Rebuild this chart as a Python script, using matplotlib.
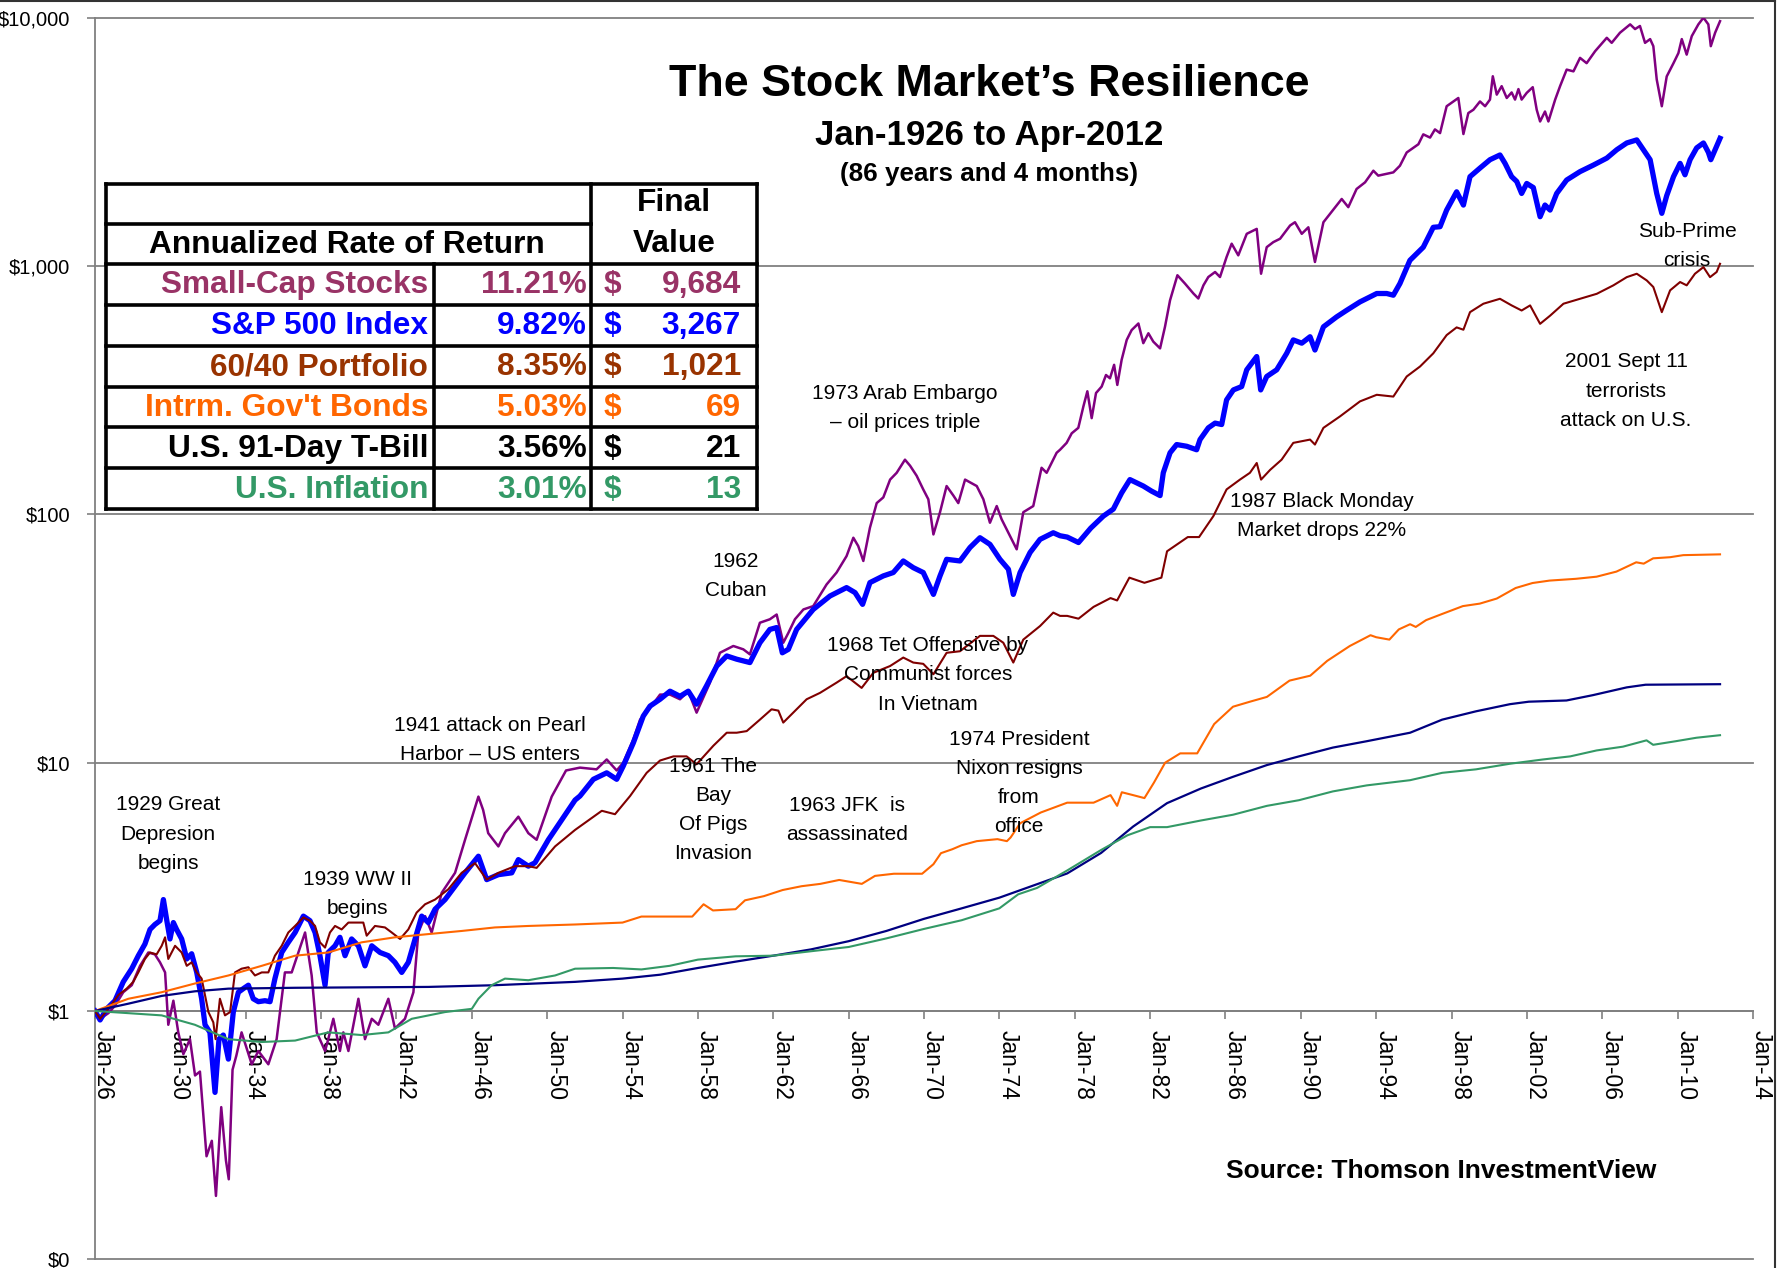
import matplotlib
matplotlib.use("Agg")
import matplotlib.pyplot as plt
from matplotlib.lines import Line2D
from matplotlib.patches import Rectangle
from matplotlib.ticker import NullLocator, FixedLocator
import matplotlib.transforms as mtransforms

plt.rcParams['font.family'] = ['Liberation Sans', 'DejaVu Sans']

# ---------------- data (growth of $1) ----------------
small_x = [1926.0, 1926.27, 1926.71, 1927.06, 1927.5, 1927.95, 1928.39, 1928.83, 1929.18, 1929.45,
           1929.72, 1929.89, 1930.16, 1930.42, 1930.69, 1931.04, 1931.31, 1931.57, 1931.75, 1931.92,
           1932.2, 1932.42, 1932.7, 1932.95, 1933.1, 1933.3, 1933.5, 1933.78, 1934.32, 1934.67,
           1935.2, 1935.64, 1936.08, 1936.44, 1937.15, 1937.5, 1937.77, 1938.21, 1938.38, 1938.65,
           1939.0, 1939.18, 1939.45, 1939.98, 1940.33, 1940.69, 1941.04, 1941.57, 1941.92, 1942.45,
           1942.9, 1943.16, 1943.52, 1943.87, 1944.4, 1945.11, 1945.64, 1946.35, 1946.6, 1946.87,
           1947.41, 1947.76, 1948.47, 1949.0, 1949.44, 1950.24, 1951.0, 1951.74, 1952.62, 1953.16,
           1953.69, 1954.04, 1954.57, 1954.93, 1955.46, 1955.99, 1956.52, 1957.05, 1957.49, 1957.93,
           1958.64, 1959.17, 1959.88, 1960.41, 1960.76, 1961.29, 1961.82, 1962.18, 1962.53, 1962.8,
           1963.15, 1963.6, 1964.12, 1964.83, 1965.36, 1965.89, 1966.25, 1966.51, 1966.78, 1967.13,
           1967.49, 1967.84, 1968.2, 1968.55, 1968.99, 1969.26, 1969.61, 1969.96, 1970.23, 1970.5,
           1970.85, 1971.2, 1971.56, 1971.82, 1972.18, 1972.8, 1973.15, 1973.5, 1973.86, 1974.12,
           1974.56, 1974.92, 1975.27, 1975.8, 1976.24, 1976.51, 1977.04, 1977.22, 1977.57, 1977.84,
           1978.19, 1978.46, 1978.67, 1978.9, 1979.13, 1979.43, 1979.66, 1979.87, 1980.09, 1980.26,
           1980.49, 1980.76, 1981.02, 1981.38, 1981.64, 1981.91, 1982.17, 1982.53, 1982.79, 1983.06,
           1983.45, 1983.85, 1984.3, 1984.56, 1984.83, 1985.09, 1985.45, 1985.71, 1986.06, 1986.33,
           1986.68, 1987.13, 1987.66, 1987.89, 1988.19, 1988.54, 1988.9, 1989.43, 1989.69, 1990.05,
           1990.4, 1990.75, 1991.2, 1991.55, 1992.17, 1992.52, 1992.96, 1993.41, 1993.85, 1994.11,
           1994.91, 1995.26, 1995.62, 1996.24, 1996.5, 1996.86, 1997.12, 1997.39, 1997.74, 1998.36,
           1998.63, 1998.89, 1999.16, 1999.51, 1999.78, 2000.04, 2000.19, 2000.4, 2000.66, 2000.93,
           2001.19, 2001.37, 2001.55, 2001.72, 2001.99, 2002.31, 2002.52, 2002.7, 2002.96, 2003.14,
           2003.5, 2003.76, 2004.11, 2004.47, 2004.82, 2005.17, 2005.62, 2006.24, 2006.5, 2006.94,
           2007.48, 2007.74, 2008.0, 2008.27, 2008.54, 2008.71, 2008.89, 2009.16, 2009.42, 2009.78,
           2010.04, 2010.22, 2010.48, 2010.75, 2011.1, 2011.37, 2011.63, 2011.76, 2011.99, 2012.25]
small_y = [1.0, 0.93, 0.98, 1.05, 1.19, 1.27, 1.52, 1.72, 1.69, 1.57,
           1.43, 0.88, 1.10, 0.82, 0.67, 0.77, 0.55, 0.57, 0.38, 0.26,
           0.30, 0.18, 0.41, 0.25, 0.21, 0.58, 0.66, 0.82, 0.61, 0.69,
           0.61, 0.77, 1.43, 1.43, 2.07, 1.39, 0.82, 0.69, 0.77, 0.93,
           0.69, 0.82, 0.69, 1.12, 0.77, 0.93, 0.88, 1.12, 0.85, 0.93,
           1.19, 2.07, 2.41, 2.07, 2.99, 3.6, 4.89, 7.3, 6.45, 5.2,
           4.6, 5.2, 6.06, 5.2, 4.89, 7.3, 9.3, 9.55, 9.4, 10.3,
           9.3, 10.0, 12.4, 14.9, 16.6, 18.8, 18.8, 18.0, 19.4, 15.9,
           21.0, 27.7, 29.5, 28.6, 27.3, 36.6, 37.8, 39.5, 30.4, 33.3,
           37.8, 41.4, 42.7, 52.2, 58.3, 67.9, 80.5, 74.5, 64.9, 88.3,
           111, 117, 138, 147, 166, 157, 143, 126, 115, 83,
           102, 130, 119, 111, 138, 130, 115, 92.5, 108, 95.5,
           81.9, 72.3, 102, 108, 154, 147, 177, 182, 194, 212,
           223, 272, 313, 244, 308, 327, 364, 353, 400, 332,
           419, 504, 552, 587, 489, 536, 496, 466, 569, 728,
           918, 850, 775, 740, 836, 903, 946, 903, 1087, 1230,
           1104, 1348, 1411, 931, 1191, 1248, 1288, 1456, 1501, 1348,
           1432, 1038, 1501, 1622, 1862, 1726, 2043, 2173, 2420, 2312,
           2383, 2534, 2866, 3093, 3390, 3290, 3550, 3430, 4400, 4750,
           3400, 4130, 4260, 4600, 4400, 4680, 5810, 4900, 5300, 4750,
           5000, 4680, 5160, 4680, 4980, 5250, 4260, 3820, 4190, 3820,
           4680, 5300, 6180, 6080, 6890, 6560, 7330, 8300, 7920, 8700,
           9400, 9000, 9260, 7920, 8200, 7680, 5640, 4400, 5800, 6560,
           7200, 8200, 7100, 8430, 9400, 10000, 9400, 7680, 8700, 9684]

sp_x = [1926.0, 1926.27, 1926.62, 1927.06, 1927.5, 1927.95, 1928.3, 1928.65, 1928.92, 1929.18,
        1929.45, 1929.63, 1929.8, 1929.98, 1930.16, 1930.33, 1930.6, 1930.87, 1931.13, 1931.4,
        1931.66, 1931.84, 1932.1, 1932.37, 1932.58, 1932.81, 1933.08, 1933.34, 1933.61, 1933.87,
        1934.14, 1934.4, 1934.67, 1935.02, 1935.29, 1935.55, 1935.91, 1936.26, 1936.62, 1937.06,
        1937.41, 1937.68, 1937.94, 1938.21, 1938.38, 1938.74, 1939.0, 1939.27, 1939.62, 1939.98,
        1940.33, 1940.69, 1941.13, 1941.57, 1941.92, 1942.28, 1942.63, 1942.99, 1943.34, 1943.69,
        1944.05, 1944.58, 1945.11, 1945.64, 1946.35, 1946.79, 1947.41, 1948.12, 1948.47, 1949.0,
        1949.35, 1950.06, 1950.77, 1951.48, 1951.74, 1952.45, 1953.16, 1953.69, 1954.04, 1954.57,
        1955.1, 1955.46, 1955.99, 1956.52, 1957.05, 1957.49, 1957.93, 1958.46, 1959.0, 1959.53,
        1960.06, 1960.76, 1961.29, 1961.82, 1962.18, 1962.48, 1962.8, 1963.24, 1964.12, 1965.01,
        1965.89, 1966.34, 1966.74, 1967.13, 1967.84, 1968.37, 1968.9, 1969.43, 1969.96, 1970.5,
        1970.85, 1971.2, 1971.91, 1972.44, 1972.97, 1973.5, 1974.03, 1974.48, 1974.74, 1975.1,
        1975.63, 1976.16, 1976.86, 1977.22, 1977.6, 1978.2, 1978.85, 1979.52, 1980.05, 1980.49,
        1980.93, 1981.64, 1982.08, 1982.53, 1982.7, 1983.06, 1983.41, 1983.94, 1984.47, 1984.65,
        1985.09, 1985.45, 1985.8, 1986.06, 1986.42, 1986.86, 1987.13, 1987.66, 1987.87, 1988.19,
        1988.72, 1989.25, 1989.6, 1990.05, 1990.49, 1990.75, 1991.2, 1991.9, 1992.43, 1993.14,
        1994.03, 1994.56, 1994.91, 1995.26, 1995.79, 1996.5, 1997.03, 1997.39, 1997.74, 1998.27,
        1998.63, 1998.98, 1999.51, 2000.04, 2000.57, 2000.84, 2001.19, 2001.46, 2001.72, 2001.99,
        2002.34, 2002.7, 2002.96, 2003.23, 2003.58, 2004.11, 2004.82, 2005.53, 2006.24, 2006.77,
        2007.3, 2007.83, 2008.18, 2008.54, 2008.89, 2009.16, 2009.42, 2009.78, 2010.13, 2010.39,
        2010.66, 2011.01, 2011.37, 2011.63, 2011.76, 2012.07, 2012.25]
sp_y = [1.0, 0.92, 1.02, 1.10, 1.31, 1.48, 1.67, 1.86, 2.13, 2.23,
        2.31, 2.81, 2.34, 1.95, 2.27, 2.13, 1.95, 1.62, 1.70, 1.43,
        1.12, 0.88, 0.82, 0.47, 0.77, 0.80, 0.64, 0.99, 1.19, 1.23,
        1.27, 1.12, 1.09, 1.10, 1.09, 1.35, 1.72, 1.89, 2.07, 2.41,
        2.31, 2.07, 1.67, 1.27, 1.72, 1.83, 1.98, 1.67, 1.95, 1.83,
        1.52, 1.83, 1.72, 1.67, 1.57, 1.43, 1.57, 1.95, 2.41, 2.27,
        2.57, 2.81, 3.18, 3.6, 4.2, 3.38, 3.54, 3.6, 4.07, 3.83,
        3.95, 4.89, 5.88, 7.07, 7.34, 8.57, 9.1, 8.57, 9.7, 12.0,
        15.4, 16.9, 18.0, 19.4, 18.5, 19.4, 17.2, 20.4, 24.5, 26.9,
        26.1, 25.3, 30.4, 34.4, 35.0, 27.7, 28.6, 34.4, 41.4, 46.9,
        50.7, 48.4, 43.4, 53.1, 56.5, 58.3, 64.9, 61.0, 58.3, 47.6,
        56.5, 65.9, 64.9, 73.5, 80.5, 75.7, 65.9, 60.1, 47.6, 58.3,
        70.2, 79.3, 84.3, 82, 81, 77, 88, 98.4, 105, 122,
        138, 130, 124, 119, 147, 177, 191, 188, 182, 200,
        223, 233, 230, 289, 317, 327, 382, 432, 317, 359,
        382, 445, 504, 489, 519, 459, 569, 624, 663, 717,
        775, 775, 763, 850, 1054, 1191, 1432, 1440, 1680, 1990,
        1760, 2290, 2480, 2680, 2800, 2590, 2290, 2190, 1960, 2150,
        2070, 1580, 1760, 1680, 1960, 2220, 2400, 2550, 2720, 2940,
        3130, 3220, 2940, 2680, 1960, 1630, 1920, 2290, 2590, 2330,
        2680, 2990, 3130, 2870, 2680, 3040, 3267]

p6040_x = [1926.0, 1926.27, 1926.8, 1927.24, 1927.68, 1928.03, 1928.3, 1928.65, 1928.92, 1929.27,
           1929.54, 1929.72, 1929.89, 1930.25, 1930.6, 1930.87, 1931.13, 1931.4, 1931.66, 1932.02,
           1932.28, 1932.4, 1932.63, 1932.9, 1933.17, 1933.43, 1933.78, 1934.14, 1934.49, 1934.85,
           1935.2, 1935.55, 1935.91, 1936.26, 1936.62, 1937.06, 1937.41, 1937.68, 1937.94, 1938.21,
           1938.47, 1938.74, 1939.09, 1939.45, 1939.8, 1940.24, 1940.42, 1940.86, 1941.39, 1941.75,
           1942.19, 1942.63, 1943.07, 1943.52, 1944.05, 1944.75, 1945.46, 1946.17, 1946.79, 1947.41,
           1948.29, 1949.0, 1949.44, 1950.42, 1951.48, 1952.9, 1953.6, 1954.4, 1955.28, 1955.99,
           1956.7, 1957.4, 1957.93, 1958.82, 1959.53, 1960.06, 1960.59, 1961.29, 1961.91, 1962.27,
           1962.53, 1963.06, 1963.77, 1964.48, 1965.36, 1965.89, 1966.69, 1967.31, 1968.2, 1968.9,
           1969.43, 1969.96, 1970.5, 1971.2, 1971.91, 1972.97, 1973.68, 1974.21, 1974.74, 1975.27,
           1976.16, 1976.86, 1977.22, 1977.6, 1978.2, 1979.0, 1979.9, 1980.25, 1980.9, 1981.7,
           1982.6, 1982.9, 1984.0, 1984.6, 1985.36, 1986.06, 1986.77, 1987.3, 1987.66, 1987.89,
           1988.37, 1988.98, 1989.6, 1990.49, 1990.75, 1991.2, 1992.08, 1993.14, 1994.03, 1994.91,
           1995.62, 1996.33, 1997.03, 1997.74, 1998.27, 1998.63, 1998.98, 1999.69, 2000.57, 2001.19,
           2001.72, 2002.17, 2002.7, 2003.23, 2003.94, 2004.82, 2005.71, 2006.59, 2007.3, 2007.83,
           2008.36, 2008.71, 2009.16, 2009.6, 2010.13, 2010.48, 2010.92, 2011.37, 2011.72, 2012.07,
           2012.25]
p6040_y = [1.0, 0.93, 1.04, 1.16, 1.23, 1.31, 1.43, 1.62, 1.72, 1.69,
           1.83, 1.98, 1.62, 1.83, 1.72, 1.52, 1.57, 1.43, 1.35, 0.99,
           0.90, 0.77, 1.12, 0.96, 0.99, 1.43, 1.48, 1.50, 1.39, 1.43,
           1.43, 1.67, 1.83, 2.07, 2.20, 2.38, 2.31, 2.20, 1.89, 1.80,
           2.07, 2.20, 2.13, 2.27, 2.27, 2.27, 2.01, 2.20, 2.17, 2.07,
           1.95, 2.13, 2.49, 2.69, 2.81, 3.09, 3.60, 3.94, 3.38, 3.60,
           3.83, 3.83, 3.77, 4.60, 5.36, 6.4, 6.2, 7.34, 9.1, 10.2,
           10.6, 10.6, 9.85, 11.7, 13.2, 13.2, 13.4, 14.9, 16.4, 16.2,
           14.5, 15.9, 18.0, 19.1, 21.0, 22.3, 20.0, 23.0, 24.5, 26.5,
           25.3, 25.0, 22.7, 27.7, 28.1, 32.4, 32.4, 30.4, 25.3, 31.3,
           35.5, 40.2, 39, 39, 38, 42.4, 46, 45, 55.6, 53,
           55.6, 71, 81, 81, 98.4, 126, 138, 147, 161, 138,
           151, 166, 194, 200, 191, 223, 248, 285, 303, 298,
           359, 394, 445, 527, 566, 554, 652, 705, 738, 694,
           662, 694, 585, 631, 705, 738, 773, 836, 902, 931,
           875, 823, 652, 798, 862, 836, 931, 990, 902, 946,
           1021]

bond_x = [1926.0, 1927.77, 1929.54, 1931.3, 1933.08, 1934.85, 1936.62, 1938.38, 1940.15, 1941.92,
          1943.69, 1945.46, 1947.23, 1949.0, 1951.48, 1954.0, 1955.0, 1956.5, 1957.7, 1958.3,
          1958.8, 1960.0, 1960.5, 1961.5, 1962.5, 1963.5, 1964.5, 1965.5, 1966.7, 1967.4,
          1968.4, 1969.9, 1970.5, 1970.9, 1971.5, 1972.0, 1972.8, 1973.9, 1974.4, 1974.6,
          1975.1, 1976.2, 1977.6, 1979.0, 1979.9, 1980.25, 1980.5, 1981.1, 1981.7, 1982.2,
          1982.8, 1983.6, 1984.5, 1985.4, 1986.4, 1987.3, 1988.2, 1989.4, 1990.5, 1991.4,
          1992.6, 1993.7, 1994.0, 1994.7, 1995.2, 1995.8, 1996.1, 1996.65, 1997.5, 1998.6,
          1999.5, 2000.4, 2001.4, 2002.3, 2003.2, 2004.6, 2005.7, 2006.75, 2007.8, 2008.2,
          2008.7, 2009.6, 2010.3, 2012.25]
bond_y = [1.0, 1.12, 1.19, 1.29, 1.39, 1.52, 1.67, 1.72, 1.89, 1.98,
          2.04, 2.10, 2.17, 2.20, 2.23, 2.27, 2.40, 2.40, 2.40, 2.69,
          2.54, 2.57, 2.79, 2.90, 3.07, 3.18, 3.25, 3.37, 3.25, 3.50,
          3.57, 3.57, 3.90, 4.32, 4.48, 4.65, 4.83, 4.92, 4.83, 5.0,
          5.7, 6.3, 6.9, 6.9, 7.4, 6.7, 7.6, 7.4, 7.2, 8.3,
          10.0, 10.9, 10.9, 14.3, 16.8, 17.6, 18.4, 21.4, 22.4, 25.7,
          29.5, 32.6, 32.0, 31.3, 34.4, 36.1, 35.2, 37.5, 39.7, 42.7,
          43.7, 45.8, 50.5, 52.9, 54.1, 55.0, 56.1, 58.8, 64.1, 63.3,
          66.5, 67.2, 68.5, 69.0]

tbill_x = [1926.0, 1927.77, 1929.54, 1931.3, 1933.08, 1936.62, 1943.69, 1947.23, 1951.48, 1954.0,
           1956.0, 1958.0, 1960.0, 1962.0, 1964.0, 1966.0, 1968.0, 1970.0, 1972.0, 1974.0,
           1975.85, 1977.6, 1979.4, 1981.1, 1982.9, 1984.7, 1986.4, 1988.2, 1989.9, 1991.7,
           1993.5, 1995.8, 1997.5, 1999.3, 2001.1, 2002.1, 2004.1, 2005.5, 2007.3, 2008.3,
           2012.25]
tbill_y = [1.0, 1.07, 1.15, 1.20, 1.23, 1.24, 1.25, 1.27, 1.31, 1.35,
           1.40, 1.49, 1.58, 1.67, 1.77, 1.91, 2.10, 2.35, 2.59, 2.86,
           3.21, 3.58, 4.33, 5.53, 6.87, 7.87, 8.77, 9.78, 10.6, 11.5,
           12.2, 13.2, 14.9, 16.1, 17.2, 17.6, 17.8, 18.7, 20.1, 20.6,
           20.7]

infl_x = [1926.0, 1927.77, 1929.54, 1931.3, 1933.08, 1934.85, 1936.62, 1938.38, 1940.15, 1941.57,
          1942.81, 1944.58, 1946.0, 1946.35, 1947.05, 1947.76, 1949.0, 1950.42, 1951.48, 1953.5,
          1955.0, 1956.5, 1958.0, 1960.0, 1962.0, 1964.0, 1966.0, 1968.0, 1970.0, 1972.0,
          1974.0, 1975.0, 1976.0, 1977.6, 1979.4, 1980.8, 1982.0, 1982.9, 1984.7, 1986.4,
          1988.2, 1989.9, 1991.7, 1993.5, 1995.8, 1997.5, 1999.3, 2001.1, 2002.85, 2004.3,
          2005.7, 2007.1, 2008.35, 2008.7, 2009.9, 2011.0, 2012.25]
infl_y = [1.0, 0.98, 0.96, 0.88, 0.77, 0.75, 0.76, 0.82, 0.80, 0.82,
          0.93, 0.99, 1.02, 1.12, 1.27, 1.35, 1.33, 1.39, 1.48, 1.49,
          1.47, 1.52, 1.61, 1.66, 1.67, 1.74, 1.81, 1.96, 2.14, 2.32,
          2.59, 2.95, 3.13, 3.68, 4.45, 5.1, 5.5, 5.5, 5.85, 6.17,
          6.7, 7.06, 7.66, 8.1, 8.5, 9.1, 9.4, 9.9, 10.3, 10.6,
          11.2, 11.6, 12.3, 11.8, 12.2, 12.6, 12.9]

# table contents
table_names = ["Small-Cap Stocks", "S&P 500 Index", "60/40 Portfolio",
               "Intrm. Gov't Bonds", "U.S. 91-Day T-Bill", "U.S. Inflation"]
table_rates = ["11.21%", "9.82%", "8.35%", "5.03%", "3.56%", "3.01%"]
table_finals = ["9,684", "3,267", "1,021", "69", "21", "13"]
table_colors = ["#993366", "#0000FF", "#993300", "#FF6600", "#000000", "#339966"]

# axis ticks
ytick_vals = [0.1, 1, 10, 100, 1000, 10000]
ytick_labels = ["$0", "$1", "$10", "$100", "$1,000", "$10,000"]
xtick_years = list(range(1926, 2015, 4))
xtick_labels = ["Jan-%02d" % (y % 100) for y in xtick_years]

annotations = [
    ("1929 Great\nDepresion\nbegins", 168, 834),
    ("1939 WW II\nbegins", 357, 894),
    ("1941 attack on Pearl\nHarbor \u2013 US enters", 490, 740),
    ("1961 The\nBay\nOf Pigs\nInvasion", 713, 810),
    ("1962\nCuban", 736, 576),
    ("1963 JFK  is\nassassinated", 847, 820),
    ("1968 Tet Offensive by\nCommunist forces\nIn Vietnam", 928, 675),
    ("1973 Arab Embargo\n\u2013 oil prices triple", 905, 408),
    ("1974 President\nNixon resigns\nfrom\noffice", 1019, 783),
    ("1987 Black Monday\nMarket drops 22%", 1322, 516),
    ("2001 Sept 11\nterrorists\nattack on U.S.", 1626, 391),
    ("Sub-Prime\ncrisis", 1687, 246),
]

# ---------------- figure ----------------
W, H = 1785, 1268
fig = plt.figure(figsize=(W / 100, H / 100), dpi=100)
fig.patch.set_facecolor("white")

def fx(px):
    return px / W

def fy(py):
    return 1 - py / H

ax_left, ax_right, ax_top, ax_bot = 95, 1753, 17.7, 1259.3
ax = fig.add_axes([fx(ax_left), fy(ax_bot), fx(ax_right - ax_left), (ax_bot - ax_top) / H])
ax.set_yscale("log")
ax.set_xlim(1926, 2014)
ax.set_ylim(0.1, 10000)
ax.set_facecolor("white")

grid_col = "#808080"
for v in ytick_vals:
    ax.axhline(v, color=grid_col, lw=1.3, zorder=1, clip_on=False)

ax.plot(small_x, small_y, color="#800080", lw=1.8, zorder=3)
ax.plot(sp_x, sp_y, color="#0000FF", lw=3.8, zorder=4)
ax.plot(p6040_x, p6040_y, color="#800000", lw=1.5, zorder=5)
ax.plot(bond_x, bond_y, color="#FF6600", lw=1.5, zorder=5)
ax.plot(tbill_x, tbill_y, color="#000080", lw=1.6, zorder=5)
ax.plot(infl_x, infl_y, color="#339966", lw=1.5, zorder=5)

for s in ["top", "right"]:
    ax.spines[s].set_visible(False)
ax.spines["left"].set_color(grid_col)
ax.spines["left"].set_linewidth(1.3)
ax.spines["bottom"].set_position(("data", 1))
ax.spines["bottom"].set_color(grid_col)
ax.spines["bottom"].set_linewidth(1.3)

ax.yaxis.set_major_locator(FixedLocator(ytick_vals))
ax.yaxis.set_minor_locator(NullLocator())
ax.set_yticklabels(ytick_labels, fontsize=14.5)
ax.tick_params(axis="y", direction="out", length=6, width=1.2, color=grid_col, pad=12)

ax.set_xticks(xtick_years)
ax.set_xticklabels(xtick_labels, fontsize=16.5, rotation=-90, ha="left", va="top")
ax.tick_params(axis="x", direction="out", length=6, width=1.2, color=grid_col, pad=8)
shift = mtransforms.ScaledTranslation(-3 / 100, 0, fig.dpi_scale_trans)
for lab in ax.get_xticklabels():
    lab.set_transform(lab.get_transform() + shift)

# titles
fig.text(fx(989), fy(85), "The Stock Market\u2019s Resilience", ha="center", va="center",
         fontsize=32.3, fontweight="bold")
fig.text(fx(989), fy(136), "Jan-1926 to Apr-2012", ha="center", va="center",
         fontsize=25, fontweight="bold")
fig.text(fx(989), fy(174), "(86 years and 4 months)", ha="center", va="center",
         fontsize=18.7, fontweight="bold")
fig.text(fx(1656), fy(1171), "Source: Thomson InvestmentView", ha="right", va="center",
         fontsize=19, fontweight="bold")

for txt, x, y in annotations:
    fig.text(fx(x), fy(y), txt, ha="center", va="center", fontsize=15,
             linespacing=1.67, multialignment="center", zorder=10)

# ---------------- table ----------------
tl, tc1, tc2, tr = 106, 434, 591, 757
tt, th1, th2, tb = 184, 224, 264, 509
row_h = (tb - th2) / 6
lw_t = 2.6

def hline(y, x0, x1):
    fig.add_artist(Line2D([fx(x0), fx(x1)], [fy(y), fy(y)], color="black", lw=lw_t,
                          solid_capstyle="projecting", zorder=20))

def vline(x, y0, y1):
    fig.add_artist(Line2D([fx(x), fx(x)], [fy(y0), fy(y1)], color="black", lw=lw_t,
                          solid_capstyle="projecting", zorder=20))

fig.add_artist(Rectangle((fx(tl), fy(tb)), fx(tr - tl), (tb - tt) / H,
                         facecolor="white", edgecolor="none", zorder=15))
hline(tt, tl, tr)
hline(th1, tl, tc2)
for i in range(7):
    hline(th2 + i * row_h, tl, tr)
vline(tl, tt, tb)
vline(tr, tt, tb)
vline(tc2, tt, tb)
vline(tc1, th2, tb)

fs_t = 22.8
fig.text(fx(347), fy(245), "Annualized Rate of Return", ha="center", va="center",
         fontsize=fs_t, fontweight="bold", zorder=21)
fig.text(fx(674), fy(203), "Final", ha="center", va="center", fontsize=fs_t,
         fontweight="bold", zorder=21)
fig.text(fx(674), fy(244), "Value", ha="center", va="center", fontsize=fs_t,
         fontweight="bold", zorder=21)
for i, (n, r, v, c) in enumerate(zip(table_names, table_rates, table_finals, table_colors)):
    yc = th2 + (i + 0.5) * row_h + 1
    fig.text(fx(428), fy(yc), n, ha="right", va="center", fontsize=fs_t,
             fontweight="bold", color=c, zorder=21)
    fig.text(fx(587), fy(yc), r, ha="right", va="center", fontsize=fs_t,
             fontweight="bold", color=c, zorder=21)
    fig.text(fx(604), fy(yc), "$", ha="left", va="center", fontsize=fs_t,
             fontweight="bold", color=c, zorder=21)
    fig.text(fx(741), fy(yc), v, ha="right", va="center", fontsize=fs_t,
             fontweight="bold", color=c, zorder=21)

# figure border (top and right visible)
fig.add_artist(Line2D([0, fx(1775)], [fy(0.8), fy(0.8)], color="#333333", lw=1.5))
fig.add_artist(Line2D([fx(1775), fx(1775)], [fy(0.8), 0], color="#333333", lw=1.5))

fig.savefig("out.png", dpi=100, facecolor="white")
